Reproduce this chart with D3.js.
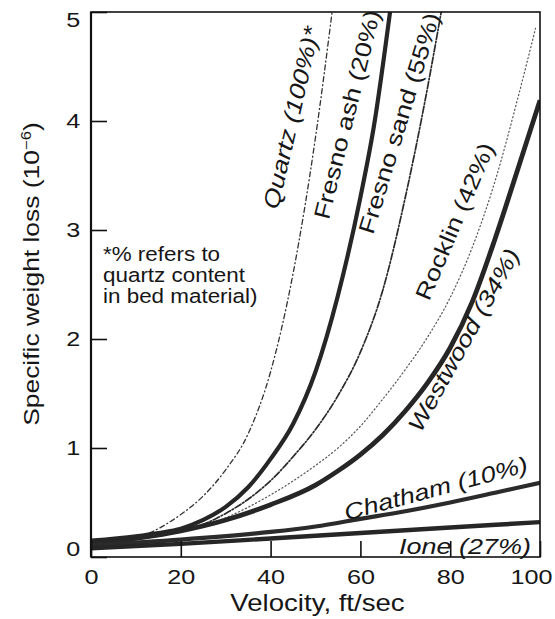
<!DOCTYPE html>
<html><head><meta charset="utf-8">
<script src="https://cdn.jsdelivr.net/npm/d3@7"></script>
<style>
html,body{margin:0;padding:0;background:#fff;}
svg{display:block;}
text{font-family:"Liberation Sans",Arial,Helvetica,sans-serif;fill:#161616;}
</style></head><body>
<svg id="chart" width="555" height="619"></svg>
<script>
// Specific weight loss (x10^-6) against flow velocity (ft/sec), one array per bed material
const quartz     = [[0,0.1],[10,0.17],[15,0.26],[20,0.39],[25,0.56],[30,0.8],[35,1.13],[40,1.7],[45,2.6],[50,3.85],[53.7,5]];
const fresnoAsh  = [[0,0.15],[10,0.19],[15,0.22],[20,0.26],[25,0.34],[30,0.46],[35,0.64],[40,0.9],[45,1.22],[50,1.7],[55,2.4],[60,3.3],[63,3.95],[66.6,5]];
const fresnoSand = [[0,0.13],[10,0.17],[20,0.24],[25,0.3],[30,0.4],[35,0.53],[40,0.7],[45,0.92],[50,1.17],[55,1.48],[60,1.88],[65,2.45],[70,3.3],[74,4.1],[78,5]];
const rocklin    = [[0,0.12],[10,0.16],[20,0.23],[30,0.36],[40,0.57],[50,0.84],[55,1.0],[60,1.2],[65,1.45],[70,1.72],[75,2.02],[80,2.38],[85,2.85],[90,3.45],[95,4.2],[99,4.85]];
const westwood   = [[0,0.13],[10,0.17],[20,0.24],[30,0.34],[40,0.48],[50,0.66],[55,0.79],[60,0.94],[65,1.12],[70,1.34],[75,1.6],[80,1.92],[85,2.35],[90,2.92],[95,3.55],[100,4.19]];
const chatham    = [[0,0.11],[20,0.16],[40,0.23],[50,0.28],[60,0.35],[70,0.42],[80,0.5],[90,0.59],[100,0.68]];
const ione       = [[0,0.08],[20,0.12],[40,0.17],[60,0.22],[80,0.27],[100,0.32]];

const seriesNames = ["Quartz (100%)*","Fresno ash (20%)","Fresno sand (55%)","Rocklin (42%)","Westwood (34%)","Chatham (10%)","Ione (27%)"];
const seriesData  = [quartz, fresnoAsh, fresnoSand, rocklin, westwood, chatham, ione];

const xTicks = [0,20,40,60,80,100];
const yTicks = [0,1,2,3,4,5];
const xTitle = "Velocity, ft/sec";
const footnote = ["*% refers to","quartz content","in bed material)"];

// ---- layout & styling ----
const plot = {left: 91, right: 540, top: 12, bottom: 557};
const WIDE = "scale(1.2,1)";   // the lettering is set wide

const lineStyle = {
  "Quartz (100%)*":   {w: 1.3, dash: "5 3 1 3",   color: "#333"},
  "Fresno ash (20%)": {w: 4.2, dash: null,        color: "#262626"},
  "Fresno sand (55%)":{w: 1.7, dash: "7 2 1.5 2", color: "#2a2a2a"},
  "Rocklin (42%)":    {w: 1.2, dash: "1.2 2.6",   color: "#555"},
  "Westwood (34%)":   {w: 4.8, dash: null,        color: "#262626"},
  "Chatham (10%)":    {w: 4.2, dash: null,        color: "#2b2b2b"},
  "Ione (27%)":       {w: 4.4, dash: null,        color: "#262626"}
};
// label anchor in data units, rotation, italic
const labelPlace = {
  "Quartz (100%)*":   {v: 44.6, w: 4.03, a: -77, it: true},
  "Fresno ash (20%)": {v: 57.0, w: 4.06, a: -76, it: false},
  "Fresno sand (55%)":{v: 68.6, w: 3.98, a: -73, it: false},
  "Rocklin (42%)":    {v: 81.0, w: 3.08, a: -67, it: false},
  "Westwood (34%)":   {v: 83.0, w: 1.99, a: -61, it: true},
  "Chatham (10%)":    {v: 76.8, w: 0.63, a: -15, it: true},
  "Ione (27%)":       {v: 83.3, w: 0.1,  a: 0,   it: true}
};

const svg = d3.select("#chart");
const x = d3.scaleLinear().domain([0,100]).range([plot.left, plot.right]);
const y = d3.scaleLinear().domain([0,5]).range([plot.bottom, plot.top]);

svg.append("defs").append("clipPath").attr("id","plotClip")
  .append("rect").attr("x", plot.left).attr("y", plot.top)
  .attr("width", plot.right - plot.left).attr("height", plot.bottom - plot.top);

// curves
const line = d3.line().x(d => x(d[0])).y(d => y(d[1])).curve(d3.curveMonotoneX);
const curves = svg.append("g").attr("clip-path","url(#plotClip)");
seriesNames.forEach((name, i) => {
  const s = lineStyle[name];
  curves.append("path")
    .datum(seriesData[i])
    .attr("d", line)
    .attr("fill","none")
    .attr("stroke", s.color)
    .attr("stroke-width", s.w)
    .attr("stroke-linecap", s.dash ? "round" : "butt")
    .attr("stroke-dasharray", s.dash);
});

// axes with inward ticks
const yAxis = svg.append("g").attr("transform", `translate(${plot.left},0)`)
  .call(d3.axisLeft(y).tickValues(yTicks).tickFormat(d3.format("d")).tickSize(-16).tickPadding(9));
const xAxis = svg.append("g").attr("transform", `translate(0,${plot.bottom})`)
  .call(d3.axisBottom(x).tickValues(xTicks).tickFormat(d3.format("d")).tickSize(-16).tickPadding(12));
[yAxis, xAxis].forEach(g => {
  g.select(".domain").remove();
  g.selectAll(".tick line").attr("stroke","#111").attr("stroke-width",1.6);
  g.selectAll(".tick text").attr("font-size",21).attr("fill","#161616")
    .style("font-family",'"Liberation Sans",Arial,sans-serif');
});
yAxis.selectAll(".tick text").attr("transform", WIDE)
  .attr("dy", d => d === 0 ? "-0.05em" : d === 5 ? "0.7em" : "0.32em");
xAxis.selectAll(".tick text")
  .attr("transform", d => d === 100 ? "translate(-9,0) " + WIDE : WIDE);

// frame
svg.append("rect")
  .attr("x", plot.left).attr("y", plot.top)
  .attr("width", plot.right - plot.left).attr("height", plot.bottom - plot.top)
  .attr("fill","none").attr("stroke","#111").attr("stroke-width",1.6);
svg.append("line").attr("x1",plot.left).attr("x2",plot.left)
  .attr("y1",plot.top).attr("y2",plot.bottom).attr("stroke","#111").attr("stroke-width",2.2);

// axis titles
svg.append("text")
  .attr("transform", `translate(${(plot.left+plot.right)/2 + 2},611) ${WIDE}`)
  .attr("text-anchor","middle").attr("font-size",23).text(xTitle);

const yt = svg.append("text")
  .attr("transform", `translate(39,274) rotate(-90) ${WIDE}`)
  .attr("text-anchor","middle").attr("font-size",22);
yt.append("tspan").text("Specific weight loss (10");
yt.append("tspan").attr("font-size",14).attr("dy",-8).text("−6");
yt.append("tspan").attr("dy",8).text(")");

// curve labels
seriesNames.forEach(name => {
  const p = labelPlace[name];
  svg.append("text")
    .attr("transform", `translate(${x(p.v)},${y(p.w)}) rotate(${p.a}) ${WIDE}`)
    .attr("text-anchor","middle")
    .attr("dy","0.35em")
    .attr("font-size",22.5)
    .attr("font-style", p.it ? "italic" : "normal")
    .text(name);
});

// footnote
const fn = svg.append("text").attr("font-size",19.5)
  .attr("transform", `translate(103,0) scale(1.15,1)`);
footnote.forEach((t, i) => {
  fn.append("tspan").attr("x",0).attr("y", 261 + i * 21).text(t);
});
</script>
</body></html>
